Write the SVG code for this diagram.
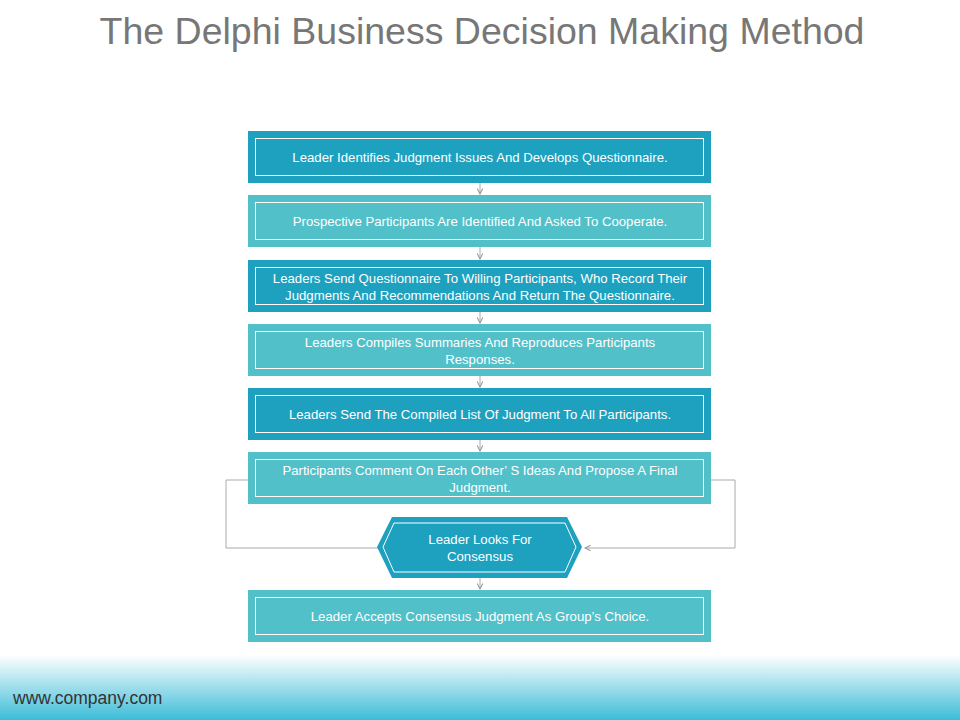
<svg xmlns="http://www.w3.org/2000/svg" width="960" height="720" viewBox="0 0 960 720">
<defs>
<linearGradient id="ft" x1="0" y1="0" x2="0" y2="1"><stop offset="0" stop-color="#ffffff"/><stop offset="1" stop-color="#3cbcd8"/></linearGradient>
<marker id="ar" viewBox="0 0 10 10" refX="9" refY="5" markerWidth="7" markerHeight="7" orient="auto"><path d="M1,1 L9,5 L1,9" fill="none" stroke="#999" stroke-width="1.5"/></marker>
<style>
.d{fill:#1DA1BF}.l{fill:#52C0C9}.in{fill:none;stroke:#fff;stroke-width:1}
.t{font-family:"Liberation Sans",Arial,sans-serif;font-size:13.2px;fill:#fff;text-anchor:middle}
.c{fill:none;stroke:#aaa;stroke-width:1}
</style>
</defs>
<rect width="960" height="720" fill="#fff"/>
<rect x="0" y="655" width="960" height="65" fill="url(#ft)"/>
<text x="482" y="44" font-family="Liberation Sans,Arial,sans-serif" font-size="37.5" fill="#777" text-anchor="middle">The Delphi Business Decision Making Method</text>
<text x="13" y="704" font-family="Liberation Sans,Arial,sans-serif" font-size="17.5" fill="#333">www.company.com</text>
<g id="connectors">
<line class="c" x1="480" y1="183" x2="480" y2="194" marker-end="url(#ar)"/>
<line class="c" x1="480" y1="247" x2="480" y2="259" marker-end="url(#ar)"/>
<line class="c" x1="480" y1="312" x2="480" y2="323" marker-end="url(#ar)"/>
<line class="c" x1="480" y1="376" x2="480" y2="387" marker-end="url(#ar)"/>
<line class="c" x1="480" y1="440" x2="480" y2="451" marker-end="url(#ar)"/>
<line class="c" x1="480" y1="578" x2="480" y2="589" marker-end="url(#ar)"/>
<polyline class="c" points="248,480 226,480 226,548 378,548"/>
<polyline class="c" points="711,480 735,480 735,548 585,548" marker-end="url(#ar)"/>
</g>
<g id="n1"><rect class="d" x="248" y="131" width="463" height="52"/><rect class="in" x="255.5" y="138.5" width="448" height="37"/><text class="t" x="480" y="162">Leader Identifies Judgment Issues And Develops Questionnaire.</text></g>
<g id="n2"><rect class="l" x="248" y="195" width="463" height="52"/><rect class="in" x="255.5" y="202.5" width="448" height="37"/><text class="t" x="480" y="226">Prospective Participants Are Identified And Asked To Cooperate.</text></g>
<g id="n3"><rect class="d" x="248" y="260" width="463" height="52"/><rect class="in" x="255.5" y="267.5" width="448" height="37"/><text class="t" x="480" y="283">Leaders Send Questionnaire To Willing Participants, Who Record Their</text><text class="t" x="480" y="300">Judgments And Recommendations And Return The Questionnaire.</text></g>
<g id="n4"><rect class="l" x="248" y="324" width="463" height="52"/><rect class="in" x="255.5" y="331.5" width="448" height="37"/><text class="t" x="480" y="347">Leaders Compiles Summaries And Reproduces Participants</text><text class="t" x="480" y="364">Responses.</text></g>
<g id="n5"><rect class="d" x="248" y="388" width="463" height="52"/><rect class="in" x="255.5" y="395.5" width="448" height="37"/><text class="t" x="480" y="419">Leaders Send The Compiled List Of Judgment To All Participants.</text></g>
<g id="n6"><rect class="l" x="248" y="452" width="463" height="52"/><rect class="in" x="255.5" y="459.5" width="448" height="37"/><text class="t" x="480" y="475">Participants Comment On Each Other’ S Ideas And Propose A Final</text><text class="t" x="480" y="492">Judgment.</text></g>
<g id="n7"><polygon class="d" points="392,517 567,517 582,547 567,578 392,578 377,547"/><polygon class="in" points="394,523 565,523 576,547 565,572 394,572 383,547"/><text class="t" x="480" y="544">Leader Looks For</text><text class="t" x="480" y="561">Consensus</text></g>
<g id="n8"><rect class="l" x="248" y="590" width="463" height="52"/><rect class="in" x="255.5" y="597.5" width="448" height="37"/><text class="t" x="480" y="621">Leader Accepts Consensus Judgment As Group’s Choice.</text></g>
</svg>
